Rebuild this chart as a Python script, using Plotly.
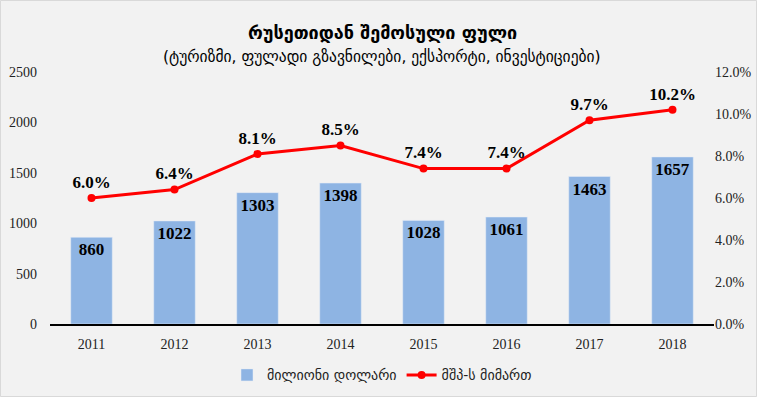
import plotly.graph_objects as go

years = ["2011", "2012", "2013", "2014", "2015", "2016", "2017", "2018"]
money = [860, 1022, 1303, 1398, 1028, 1061, 1463, 1657]
gdp_share = [6.0, 6.4, 8.1, 8.5, 7.4, 7.4, 9.7, 10.2]

bar_name = "მილიონი დოლარი"
line_name = "მშპ-ს მიმართ"
title = "რუსეთიდან შემოსული ფული"
subtitle = "(ტურიზმი, ფულადი გზავნილები, ექსპორტი, ინვესტიციები)"

serif = "Liberation Serif"
geo = "DejaVu Sans"

fig = go.Figure()
fig.add_trace(go.Bar(
    x=years, y=money, name=bar_name,
    marker=dict(color="#8EB4E3"),
    text=[str(v) for v in money], textposition="inside", insidetextanchor="end",
    textfont=dict(family=serif, size=17, color="black", weight="bold"),
    textangle=0,
))
fig.add_trace(go.Scatter(
    x=years, y=gdp_share, name=line_name, yaxis="y2",
    mode="lines+markers+text",
    line=dict(color="#FF0000", width=3),
    marker=dict(color="#FF0000", size=8),
    text=[f"{v:.1f}%" for v in gdp_share], textposition="top center",
    textfont=dict(family=serif, size=17, color="black", weight="bold"),
))

fig.update_layout(
    width=757, height=397,
    margin=dict(l=50, r=43, t=72, b=73, autoexpand=False),
    paper_bgcolor="#F2F2F2", plot_bgcolor="#F2F2F2",
    bargap=0.5,
    showlegend=True,
    legend=dict(orientation="h", x=0.5, xanchor="center", y=-0.14, yanchor="top",
                font=dict(family=geo, size=14, color="#222"), bgcolor="rgba(0,0,0,0)"),
    xaxis=dict(showgrid=False, showline=True, linecolor="black", linewidth=1.5,
               ticks="", ticklabelstandoff=6,
               tickfont=dict(family=serif, size=14, color="#222")),
    yaxis=dict(range=[0, 2500], dtick=500, showgrid=False, zeroline=False,
               ticklabelstandoff=12,
               tickfont=dict(family=serif, size=14, color="#222")),
    yaxis2=dict(range=[0, 12], dtick=2, overlaying="y", side="right", showgrid=False,
                zeroline=False, ticksuffix="%", tickformat=".1f",
                tickfont=dict(family=serif, size=14, color="#222")),
    annotations=[
        dict(text=f"<b>{title}</b>", xref="paper", yref="paper", x=0.5, y=1.0,
             yshift=52, showarrow=False, font=dict(family=geo, size=18, color="black")),
        dict(text=subtitle, xref="paper", yref="paper", x=0.5, y=1.0,
             yshift=26, showarrow=False, font=dict(family=geo, size=15.5, color="black")),
    ],
    shapes=[dict(type="rect", xref="paper", yref="paper", x0=-49.5/664, x1=1+42.5/664,
                 y0=-72.5/252, y1=1+71.5/252, line=dict(color="#D9D9D9", width=1),
                 fillcolor="rgba(0,0,0,0)", layer="below")],
)

fig.write_html("out.html", config={"displayModeBar": False},
               post_script="document.body.style.margin='0';")
